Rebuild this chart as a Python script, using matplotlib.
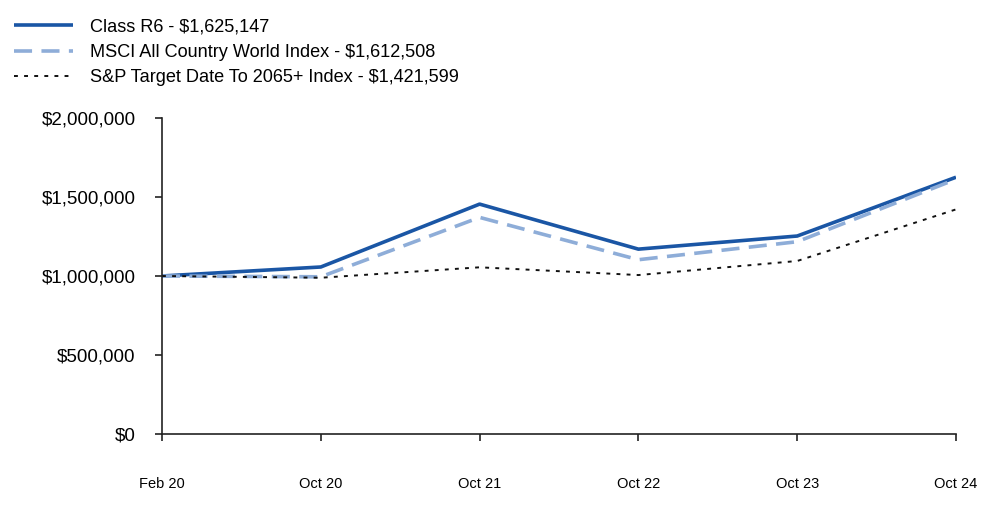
import matplotlib
matplotlib.use("Agg")
import matplotlib.pyplot as plt
from matplotlib.ticker import FuncFormatter

plt.rcParams['font.family'] = ['Liberation Sans', 'DejaVu Sans']

categories = ["Feb 20", "Oct 20", "Oct 21", "Oct 22", "Oct 23", "Oct 24"]
class_r6 = [1000000, 1057000, 1455000, 1170000, 1253000, 1625147]
msci_acwi = [1000000, 995000, 1371000, 1103000, 1217000, 1612508]
sp_2065 = [1000000, 989000, 1055000, 1006000, 1095000, 1421599]

labels = ["Class R6 - $1,625,147",
          "MSCI All Country World Index - $1,612,508",
          "S&P Target Date To 2065+ Index - $1,421,599"]

fig = plt.figure(figsize=(10, 5.23), dpi=100)
ax = fig.add_axes([0.162, 1 - 434/523, (956-162)/1000, (434-118)/523])

x = list(range(len(categories)))
l1, = ax.plot(x, class_r6, color="#1a56a5", lw=2.6, solid_capstyle="butt")
l2, = ax.plot(x, msci_acwi, color="#8eadd8", lw=2.6, dashes=(5, 2.6))
l3, = ax.plot(x, sp_2065, color="#111111", lw=1.4, dashes=(2, 3.2))

ax.set_xlim(0, len(categories) - 1)
ax.set_ylim(0, 2000000)
ax.set_yticks([0, 500000, 1000000, 1500000, 2000000])
ax.yaxis.set_major_formatter(FuncFormatter(lambda v, p: "${:,.0f}".format(v)))
ax.set_xticks(x)
ax.set_xticklabels(categories)

for s in ["top", "right"]:
    ax.spines[s].set_visible(False)
for s in ["left", "bottom"]:
    ax.spines[s].set_linewidth(1.2)
    ax.spines[s].set_color("#222222")

ax.tick_params(axis="y", labelsize=13.5, length=5, width=1.2, pad=14, colors="#222222", labelcolor="black")
ax.tick_params(axis="x", labelsize=10.5, length=5, width=1.2, pad=26, colors="#222222", labelcolor="black")

fig.legend([l1, l2, l3], labels, loc="upper left", bbox_to_anchor=(0.003, 0.985),
           frameon=False, fontsize=13.1, handlelength=3.25, handletextpad=0.95,
           labelspacing=0.45, borderaxespad=0.2)

fig.savefig("out.png", dpi=100)
